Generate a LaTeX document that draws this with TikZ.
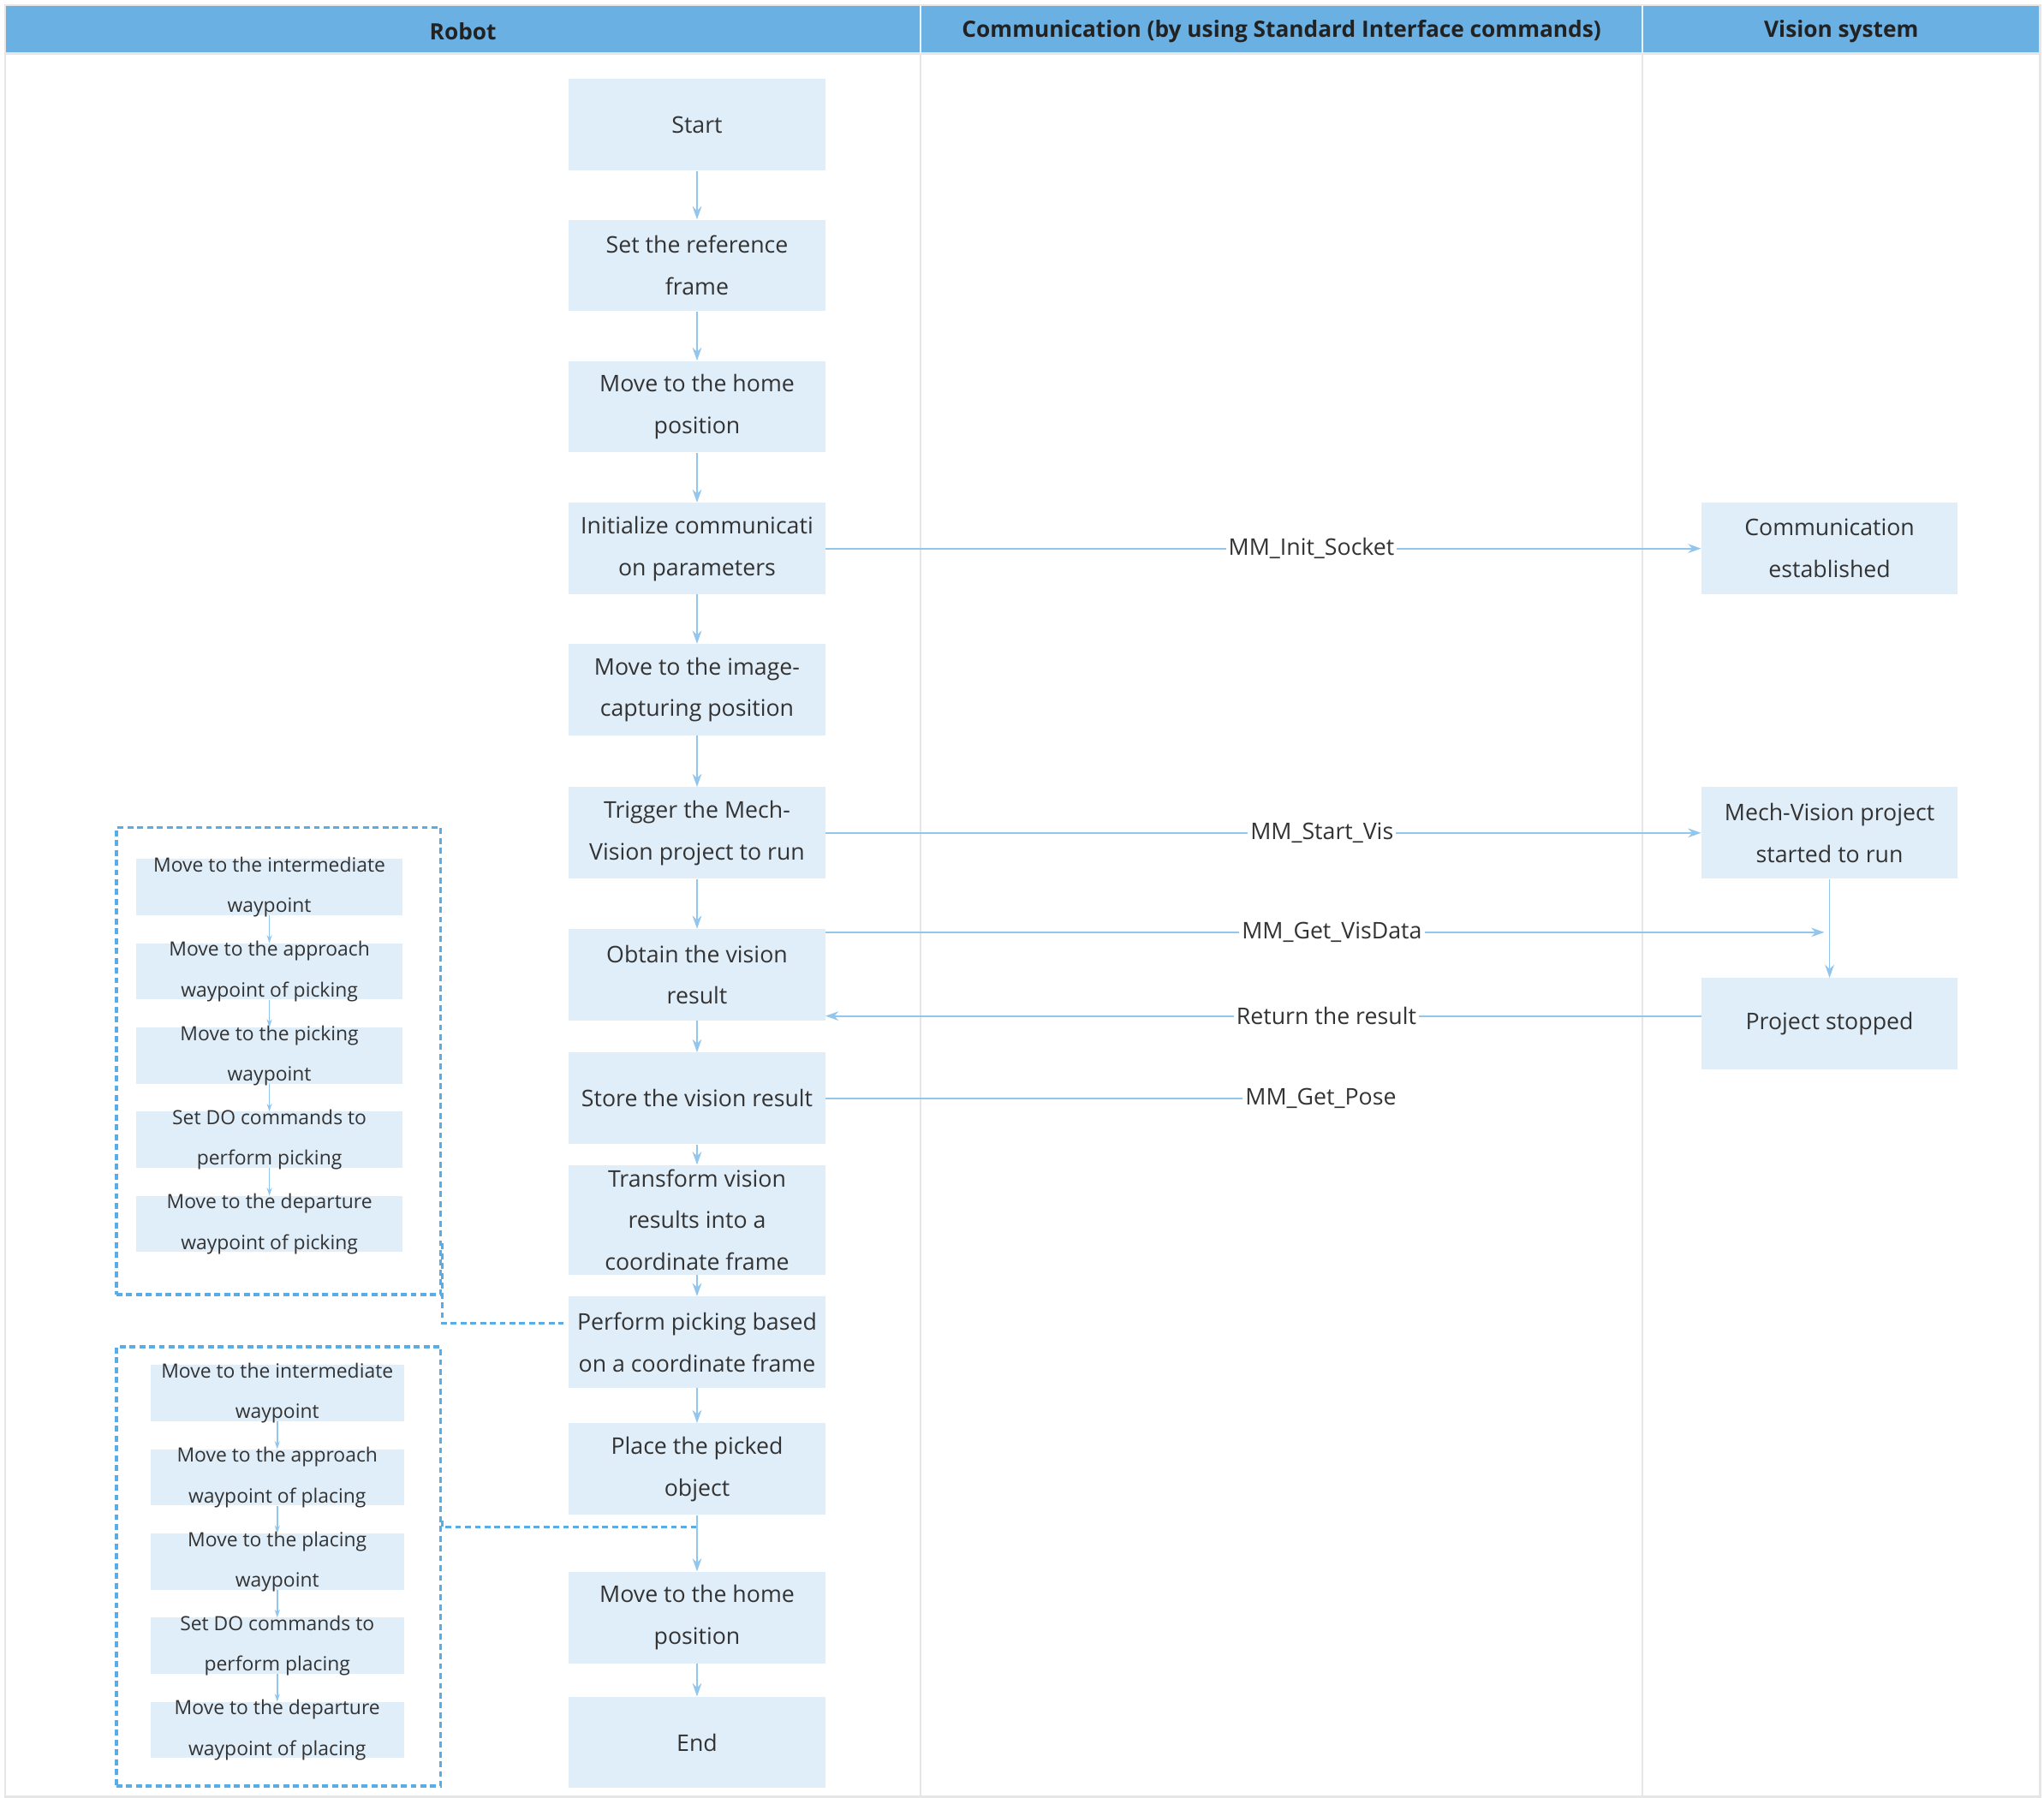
\documentclass[tikz,border=0pt]{standalone}
\usepackage{fontspec}
\setmainfont{Open Sans}
\usetikzlibrary{positioning,arrows.meta}
\definecolor{hdblue}{HTML}{6AB0E3}
\definecolor{boxfill}{HTML}{E0EEFA}
\definecolor{arrc}{HTML}{93C6EC}
\definecolor{dashc}{HTML}{5AACE6}
\definecolor{txt}{HTML}{333333}
\definecolor{hdtxt}{HTML}{222222}
\definecolor{gridc}{HTML}{E6E6E6}

\begin{document}
\begin{tikzpicture}[x=1pt, y=-1pt,
    mainbox/.style={fill=boxfill, minimum width=196pt, minimum height=70pt, inner sep=0pt,
      align=center, text=txt, font=\fontsize{17.5}{32}\selectfont},
    subbox/.style={fill=boxfill, minimum height=43pt, inner sep=0pt},
    subtxt/.style={align=center, text=txt, inner sep=0pt, font=\fontsize{15}{31}\selectfont},
    flow/.style={draw=arrc, line width=1.2pt, -{Stealth[length=10pt, width=7pt]}},
    sflow/.style={draw=arrc, line width=1pt, -{Stealth[length=6pt, width=4pt]}},
    msg/.style={fill=white, inner sep=2pt, text=txt, font=\fontsize{17.5}{20}\selectfont},
    grp/.style={draw=dashc, line width=2.2pt, dash pattern=on 4.5pt off 3pt, minimum width=248pt},
    dlink/.style={draw=dashc, line width=2.2pt, dash pattern=on 4.5pt off 3pt},
    head/.style={text=hdtxt, font=\bfseries\fontsize{17.2}{20}\selectfont}]
  \useasboundingbox (0,0) rectangle (1563,1374.5);
  \fill[hdblue] (4,4) rectangle (1560,41);
  \draw[gridc, line width=1.5pt] (4,4) rectangle (1560,1374);
  \draw[gridc, line width=1.5pt] (4,41) -- (1560,41);
  \draw[white!85!hdblue, line width=1.5pt] (704,4) -- (704,41) (1256,4) -- (1256,41);
  \draw[gridc, line width=1pt] (704,42) -- (704,1373) (1256,42) -- (1256,1373);
  \node[head] (hrob) at (354,24) {Robot};
  \node[head] (hcom) at (980,24) {Communication (by using Standard Interface commands)};
  \node[head] (hvis) at (1408,24) {Vision system};

  \node[mainbox] (start) at (533,95.5) {Start};
  \node[mainbox] (ref) at (533,203) {Set the reference\\frame};
  \node[mainbox] (home) at (533,311) {Move to the home\\position};
  \node[mainbox] (init) at (533,419.5) {Initialize communicati\\on parameters};
  \node[mainbox] (img) at (533,527.5) {Move to the image-\\capturing position};
  \node[mainbox] (trig) at (533,637) {Trigger the Mech-\\Vision project to run};
  \node[mainbox] (obtain) at (533,745.5) {Obtain the vision\\result};
  \node[mainbox] (store) at (533,840) {Store the vision result};
  \node[mainbox, minimum height=84pt] (trans) at (533,933) {Transform vision\\results into a\\coordinate frame};
  \node[mainbox] (perf) at (533,1026.5) {Perform picking based\\on a coordinate frame};
  \node[mainbox] (place) at (533,1123.5) {Place the picked\\object};
  \node[mainbox] (home2) at (533,1237) {Move to the home\\position};
  \node[mainbox] (fin) at (533,1332.5) {End};

  \node[mainbox] (comm) at (1399,419.5) {Communication\\established};
  \node[mainbox] (mvp) at (1399,637) {Mech-Vision project\\started to run};
  \node[mainbox] (stop) at (1399,783) {Project stopped};

  \draw[flow] (start) -- (ref);
  \draw[flow] (ref) -- (home);
  \draw[flow] (home) -- (init);
  \draw[flow] (init) -- (img);
  \draw[flow] (img) -- (trig);
  \draw[flow] (trig) -- (obtain);
  \draw[flow] (obtain) -- (store);
  \draw[flow] (store) -- (trans);
  \draw[flow] (trans) -- (perf);
  \draw[flow] (perf) -- (place);
  \draw[flow] (place) -- (home2);
  \draw[flow] (home2) -- (fin);
  \draw[flow] (mvp) -- (stop);

  \coordinate (vde) at (1395,713);
  \coordinate (rt) at (1301,777);
  \draw[flow] (init) -- node[msg, pos=0.555] {MM\_Init\_Socket} (comm);
  \draw[flow] (trig) -- node[msg, pos=0.567] {MM\_Start\_Vis} (mvp);
  \draw[flow] (obtain.east |- vde) -- node[msg, pos=0.507] {MM\_Get\_VisData} (vde);
  \draw[flow] (stop.west |- rt) -- node[msg, pos=0.428] {Return the result} (obtain.east |- rt);
  \node[msg] (pose) at (1010,840) {MM\_Get\_Pose};
  \draw[draw=arrc, line width=1.2pt] (store) -- (pose);

  \node[grp, minimum height=357pt] (gpick) at (213,811.5) {};
  \node[subbox, minimum width=204pt, label={[subtxt]center:{Move to the intermediate\\waypoint}}] (pk1) at (206,678.5) {};
  \node[subbox, minimum width=204pt, below=21pt of pk1, label={[subtxt]center:{Move to the approach\\waypoint of picking}}] (pk2) {};
  \node[subbox, minimum width=204pt, below=21pt of pk2, label={[subtxt]center:{Move to the picking\\waypoint}}] (pk3) {};
  \node[subbox, minimum width=204pt, below=21pt of pk3, label={[subtxt]center:{Set DO commands to\\perform picking}}] (pk4) {};
  \node[subbox, minimum width=204pt, below=21pt of pk4, label={[subtxt]center:{Move to the departure\\waypoint of picking}}] (pk5) {};
  \draw[sflow] (pk1) -- (pk2);
  \draw[sflow] (pk2) -- (pk3);
  \draw[sflow] (pk3) -- (pk4);
  \draw[sflow] (pk4) -- (pk5);

  \node[grp, minimum height=336pt] (gplace) at (213,1198) {};
  \node[subbox, minimum width=194pt, label={[subtxt]center:{Move to the intermediate\\waypoint}}] (pl1) at (212,1065.5) {};
  \node[subbox, minimum width=194pt, below=21pt of pl1, label={[subtxt]center:{Move to the approach\\waypoint of placing}}] (pl2) {};
  \node[subbox, minimum width=194pt, below=21pt of pl2, label={[subtxt]center:{Move to the placing\\waypoint}}] (pl3) {};
  \node[subbox, minimum width=194pt, below=21pt of pl3, label={[subtxt]center:{Set DO commands to\\perform placing}}] (pl4) {};
  \node[subbox, minimum width=194pt, below=21pt of pl4, label={[subtxt]center:{Move to the departure\\waypoint of placing}}] (pl5) {};
  \draw[sflow] (pl1) -- (pl2);
  \draw[sflow] (pl2) -- (pl3);
  \draw[sflow] (pl3) -- (pl4);
  \draw[sflow] (pl4) -- (pl5);

  \coordinate (pj) at (533,1168);
  \draw[dlink] (gpick.east |- 0,951) |- ([xshift=-4pt, yshift=14.5pt]perf.west);
  \draw[dlink] (gplace.east |- 0,1163) |- (pj);
\end{tikzpicture}
\end{document}
